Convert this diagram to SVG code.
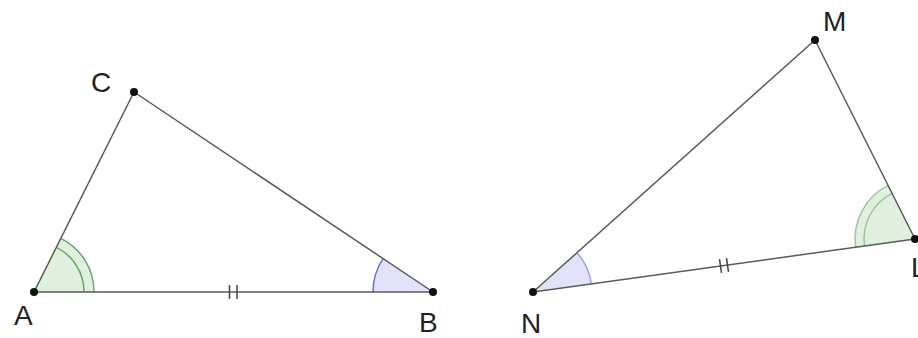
<svg xmlns="http://www.w3.org/2000/svg" width="918" height="338" viewBox="0 0 918 338">
<style>
.side{stroke:#5a5a5a;stroke-width:1.5;fill:none;stroke-linecap:round}
.tick{stroke:#444;stroke-width:1.5}
.gw{fill:#dff0df;stroke:none}
.ga{fill:none;stroke:#6aa86a;stroke-width:1.5}
.bw{fill:#e2e2fb;stroke:none}
.ba{fill:none;stroke:#6c6ce0;stroke-width:1.5}
.dot{fill:#111}
.lbl{font-family:"Liberation Sans",Arial,sans-serif;font-size:28px;fill:#222}
</style>
<rect width="918" height="338" fill="#fff"/>
<g id="angles">
<path class="gw" d="M34,292 L94,292 A60,60 0 0 0 60.8,238.3 Z"/>
<path class="ga" d="M94,292 A60,60 0 0 0 60.8,238.3"/>
<path class="ga" d="M84,292 A50,50 0 0 0 56.4,247.3"/>
<path class="bw" d="M433,292 L373,292 A60,60 0 0 1 383.1,258.6 Z"/>
<path class="ba" d="M373,292 A60,60 0 0 1 383.1,258.6"/>
<path class="bw" d="M533,292 L591.4,283.9 A59,59 0 0 0 577,252.7 Z"/>
<path class="ba" d="M591.4,283.9 A59,59 0 0 0 577,252.7" stroke-opacity="0.6"/>
<path class="gw" d="M915,239 L855.6,247.2 A60,60 0 0 1 888.1,185.4 Z"/>
<path class="ga" d="M855.6,247.2 A60,60 0 0 1 888.1,185.4" stroke-opacity="0.6"/>
<path class="ga" d="M864.5,246 A51,51 0 0 1 892.1,193.4" stroke-opacity="0.6"/>
</g>
<g id="connectors">
<line class="side" x1="34" y1="292" x2="433" y2="292"/>
<line class="side" x1="34" y1="292" x2="134" y2="92"/>
<line class="side" x1="134" y1="92" x2="433" y2="292"/>
<line class="side" x1="533" y1="292" x2="815" y2="40"/>
<line class="side" x1="815" y1="40" x2="915" y2="239"/>
<line class="side" x1="533" y1="292" x2="915" y2="239" stroke="#777"/>
<line class="tick" x1="229.5" y1="285" x2="229.5" y2="299"/>
<line class="tick" x1="237" y1="285" x2="237" y2="299"/>
<line class="tick" x1="719.5" y1="259.1" x2="721.5" y2="272.9"/>
<line class="tick" x1="726.5" y1="258.1" x2="728.5" y2="271.9"/>
</g>
<g id="A"><circle class="dot" cx="34" cy="292" r="4"/><text class="lbl" x="14" y="325">A</text></g>
<g id="B"><circle class="dot" cx="433" cy="292" r="4"/><text class="lbl" x="419" y="332">B</text></g>
<g id="C"><circle class="dot" cx="134" cy="92" r="4"/><text class="lbl" x="91" y="92">C</text></g>
<g id="M"><circle class="dot" cx="815" cy="40" r="4"/><text class="lbl" x="823" y="31">M</text></g>
<g id="N"><circle class="dot" cx="533" cy="292" r="4"/><text class="lbl" x="521" y="333">N</text></g>
<g id="L"><circle class="dot" cx="915" cy="239" r="4"/><text class="lbl" x="911" y="277">L</text></g>
</svg>
